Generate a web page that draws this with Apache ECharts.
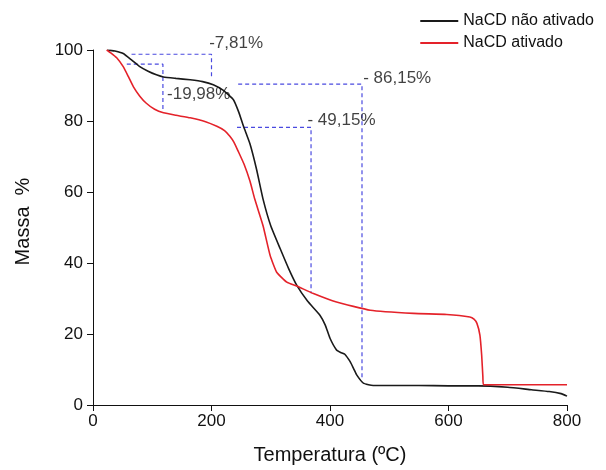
<!DOCTYPE html>
<html>
<head>
<meta charset="utf-8">
<script src="https://cdn.jsdelivr.net/npm/echarts@6/dist/echarts.min.js"></script>
<style>html,body{margin:0;padding:0;background:#fff}#c{width:606px;height:470px}</style>
</head>
<body>
<div id="c"></div>
<script>
var seriesNames = ['NaCD não ativado', 'NaCD ativado'];
var naoAtivado = [[24,100],[29,99.9],[37,99.7],[51,99.0],[65,97.2],[79,95.3],[93,94.0],[107,93.0],[119,92.4],[140,92.0],[164,91.6],[185,91.1],[203,90.2],[220,88.6],[237,86.0],[246,82.5],[254,78.5],[265,73.5],[276,66.4],[287,58.0],[300,50.5],[316,44.0],[330,38.5],[344,33.7],[362,29.3],[383,25.3],[392,22.5],[400,18.8],[411,15.5],[418,14.8],[425,14.3],[434,12.2],[440,10.2],[445,8.5],[456,6.2],[465,5.7],[473,5.5],[500,5.5],[550,5.5],[600,5.4],[650,5.4],[700,5.0],[740,4.3],[770,3.8],[790,3.2],[800,2.5]];
var ativado = [[23,100],[30,99.2],[40,97.8],[51,95.3],[60,92.4],[68,89.7],[79,87.0],[90,85.0],[104,83.3],[119,82.3],[140,81.6],[164,80.9],[190,79.8],[209,78.5],[222,77.3],[231,75.7],[238,74.0],[245,71.5],[255,67.8],[265,63.0],[273,58.0],[287,50.5],[299,42.1],[310,37.4],[327,34.6],[344,33.5],[372,31.4],[411,29.0],[468,26.7],[541,25.8],[597,25.5],[636,24.8],[643,24.2],[648,23.0],[653,19.7],[656,14.0],[658,8.0],[659,5.7],[700,5.7],[800,5.7]];
var dashA = [[65,98.8],[200,98.8],[200,92.4]];
var dashB = [[57,96.0],[118,96.0],[118,82.7]];
var dashC = [[245,90.4],[454,90.4],[454,7.0]];
var dashD = [[243,78.2],[368,78.2],[368,31.5]];
var annotTexts = ['-7,81%', '-19,98%', '- 86,15%', '- 49,15%'];
var annotPos = [[196,102.0],[125,87.4],[456,92.0],[362,80.1]];
var xTicks = {min:0, max:800, interval:200};
var yTicks = {min:0, max:100, interval:20};

var FONT = 'Liberation Sans';
var chart = echarts.init(document.getElementById('c'), null, {renderer:'canvas'});
function dashSeries(d){
  return {type:'line', data:d, symbol:'none', silent:true, z:1,
    lineStyle:{color:'#4a4ae0', width:1.2, type:[4,3]}};
}
var annotData = annotPos.map(function(p,i){ return {value:p, label:{formatter:annotTexts[i]}}; });
chart.setOption({
  animation:false,
  textStyle:{fontFamily:FONT},
  grid:{left:93, right:39, top:50, bottom:63},
  legend:{
    data:seriesNames, orient:'vertical', right:7, top:8, itemGap:6,
    itemWidth:38, itemHeight:2, icon:'rect',
    textStyle:{fontFamily:FONT, fontSize:16, color:'#111'}
  },
  xAxis:{
    type:'value', min:xTicks.min, max:xTicks.max, interval:xTicks.interval,
    name:'Temperatura (ºC)', nameLocation:'middle', nameGap:40,
    nameTextStyle:{fontFamily:FONT, fontSize:20, color:'#111'},
    axisLine:{show:true, onZero:false, lineStyle:{color:'#111', width:1}},
    axisTick:{show:true, inside:false, length:6, lineStyle:{color:'#111'}},
    axisLabel:{fontFamily:FONT, fontSize:17, color:'#111', margin:8},
    splitLine:{show:false}
  },
  yAxis:{
    type:'value', min:yTicks.min, max:yTicks.max, interval:yTicks.interval,
    name:'Massa  %', nameLocation:'middle', nameGap:60, nameRotate:90,
    nameTextStyle:{fontFamily:FONT, fontSize:20, color:'#111', padding:[0,0,0,12]},
    axisLine:{show:true, onZero:false, lineStyle:{color:'#111', width:1}},
    axisTick:{show:true, inside:false, length:6, lineStyle:{color:'#111'}},
    axisLabel:{fontFamily:FONT, fontSize:17, color:'#111', margin:10},
    splitLine:{show:false}
  },
  series:[
    dashSeries(dashA), dashSeries(dashB), dashSeries(dashC), dashSeries(dashD),
    {name:seriesNames[0], type:'line', data:naoAtivado, symbol:'none', smooth:0.15, z:3,
      lineStyle:{color:'#1a1a1a', width:1.6}, itemStyle:{color:'#1a1a1a'}},
    {name:seriesNames[1], type:'line', data:ativado, symbol:'none', smooth:0.15, z:3,
      lineStyle:{color:'#e4222a', width:1.6}, itemStyle:{color:'#e4222a'}},
    {type:'scatter', data:annotData, symbolSize:0, clip:false, silent:true, z:5,
      label:{show:true, position:'right', distance:0, fontFamily:FONT, fontSize:17, color:'#111', align:'left', verticalAlign:'middle'}}
  ]
});
</script>
</body>
</html>
